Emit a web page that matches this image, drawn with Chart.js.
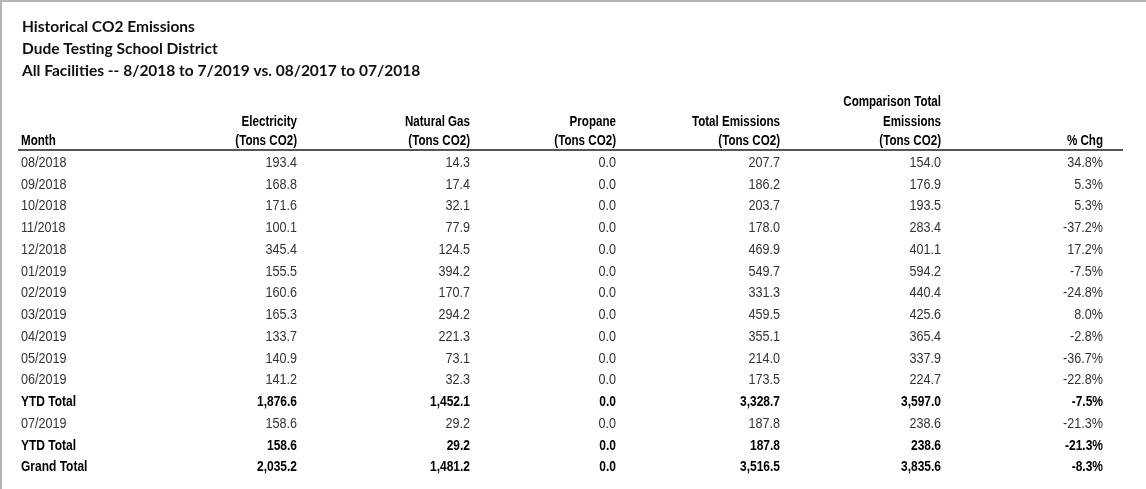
<!DOCTYPE html>
<html>
<head>
<meta charset="utf-8">
<title>Historical CO2 Emissions</title>
<script src="https://cdn.jsdelivr.net/npm/chart.js@4.4.1/dist/chart.umd.min.js"></script>
<style>
  html, body { margin: 0; padding: 0; background: #fff; }
  #wrap { position: relative; width: 1146px; height: 489px; box-sizing: border-box;
          border-top: 2px solid #b4b4b4; border-left: 2px solid #b4b4b4; }
  canvas { display: block; }
</style>
</head>
<body>
<div id="wrap"><canvas id="co2-table" width="1144" height="487"></canvas></div>
<script>
// report title
var titleLines = [
    "Historical CO2 Emissions",
    "Dude Testing School District",
    "All Facilities -- 8/2018 to 7/2019 vs. 08/2017 to 07/2018"
];

// column headings (bottom aligned)
var headers = [
    ["Month"],
    ["Electricity", "(Tons CO2)"],
    ["Natural Gas", "(Tons CO2)"],
    ["Propane", "(Tons CO2)"],
    ["Total Emissions", "(Tons CO2)"],
    ["Comparison Total", "Emissions", "(Tons CO2)"],
    ["% Chg"]
];

var months = ["08/2018", "09/2018", "10/2018", "11/2018", "12/2018", "01/2019", "02/2019",
              "03/2019", "04/2019", "05/2019", "06/2019", "YTD Total", "07/2019", "YTD Total", "Grand Total"];
var boldRows = [11, 13, 14];

var electricity = [193.4, 168.8, 171.6, 100.1, 345.4, 155.5, 160.6, 165.3, 133.7, 140.9, 141.2, 1876.6, 158.6, 158.6, 2035.2];
var naturalGas  = [14.3, 17.4, 32.1, 77.9, 124.5, 394.2, 170.7, 294.2, 221.3, 73.1, 32.3, 1452.1, 29.2, 29.2, 1481.2];
var propane     = [0, 0, 0, 0, 0, 0, 0, 0, 0, 0, 0, 0, 0, 0, 0];
var totalEmis   = [207.7, 186.2, 203.7, 178.0, 469.9, 549.7, 331.3, 459.5, 355.1, 214.0, 173.5, 3328.7, 187.8, 187.8, 3516.5];
var compareEmis = [154.0, 176.9, 193.5, 283.4, 401.1, 594.2, 440.4, 425.6, 365.4, 337.9, 224.7, 3597.0, 238.6, 238.6, 3835.6];
var pctChange   = [34.8, 5.3, 5.3, -37.2, 17.2, -7.5, -24.8, 8.0, -2.8, -36.7, -22.8, -7.5, -21.3, -21.3, -8.3];

// layout: where each column is anchored on the x scale
var colAnchor = [19, 295, 468, 614, 778, 939, 1101];
var colAlign  = ["left", "right", "right", "right", "right", "right", "right"];

// no narrow font installed, so squeeze Liberation Sans (Arial metrics) sideways
var SANS = '"Liberation Sans", Arial, sans-serif';

function fmt(v) {
    return v.toLocaleString("en-US", { minimumFractionDigits: 1, maximumFractionDigits: 1 });
}
function fmtPct(v) {
    return v.toFixed(1) + "%";
}

function narrowText(ctx, text, x, y, align, squeeze) {
    ctx.save();
    ctx.translate(x, y);
    ctx.scale(squeeze, 1);
    ctx.textAlign = align;
    ctx.fillText(text, 0, 0);
    ctx.restore();
}

var columns = [
    { values: months, format: function(v) { return v; } },
    { values: electricity, format: fmt },
    { values: naturalGas, format: fmt },
    { values: propane, format: fmt },
    { values: totalEmis, format: fmt },
    { values: compareEmis, format: fmt },
    { values: pctChange, format: fmtPct }
];

var datasets = columns.map(function(col, c) {
    return {
        label: headers[c].join(" "),
        data: col.values.map(function(v, i) { return { x: colAnchor[c], y: i }; }),
        pointRadius: 0,
        pointHoverRadius: 0
    };
});

var tablePlugin = {
    id: "tableText",
    afterDatasetsDraw: function(chart) {
        var ctx = chart.ctx;
        var area = chart.chartArea;
        ctx.save();

        // title
        ctx.fillStyle = "#111";
        ctx.textAlign = "left";
        ctx.textBaseline = "middle";
        ctx.font = "bold 15.5px Lato, 'Open Sans', sans-serif";
        titleLines.forEach(function(t, i) {
            ctx.fillText(t, 20, 25 + i * 22);
        });

        // headings
        ctx.font = "bold 14.5px " + SANS;
        ctx.fillStyle = "#000";
        headers.forEach(function(lines, c) {
            var x = chart.scales.x.getPixelForValue(colAnchor[c]);
            for (var k = 0; k < lines.length; k++) {
                var fromBottom = lines.length - 1 - k;
                narrowText(ctx, lines[k], x, area.top - 10 - fromBottom * 19.5, colAlign[c], 0.8);
            }
        });

        // rule under headings
        ctx.strokeStyle = "#555";
        ctx.lineWidth = 2;
        ctx.beginPath();
        ctx.moveTo(16, area.top - 1);
        ctx.lineTo(1121, area.top - 1);
        ctx.stroke();

        // cells
        chart.data.datasets.forEach(function(ds, c) {
            var meta = chart.getDatasetMeta(c);
            meta.data.forEach(function(pt, i) {
                var bold = boldRows.indexOf(i) >= 0;
                ctx.font = (bold ? "bold " : "") + "15px " + SANS;
                ctx.fillStyle = bold ? "#000" : "#333";
                narrowText(ctx, columns[c].format(columns[c].values[i]), pt.x, pt.y + 1, colAlign[c], bold ? 0.8 : 0.84);
            });
        });

        ctx.restore();
    }
};

var ctx = document.getElementById("co2-table").getContext("2d");
new Chart(ctx, {
    type: "scatter",
    data: { datasets: datasets },
    options: {
        responsive: false,
        animation: false,
        layout: { padding: { top: 149, bottom: 12, left: 0, right: 0 } },
        plugins: {
            legend: { display: false },
            tooltip: { enabled: false }
        },
        scales: {
            x: { type: "linear", min: 0, max: 1144, display: false },
            y: { type: "category", labels: months, offset: true, display: false }
        }
    },
    plugins: [tablePlugin]
});
</script>
</body>
</html>
